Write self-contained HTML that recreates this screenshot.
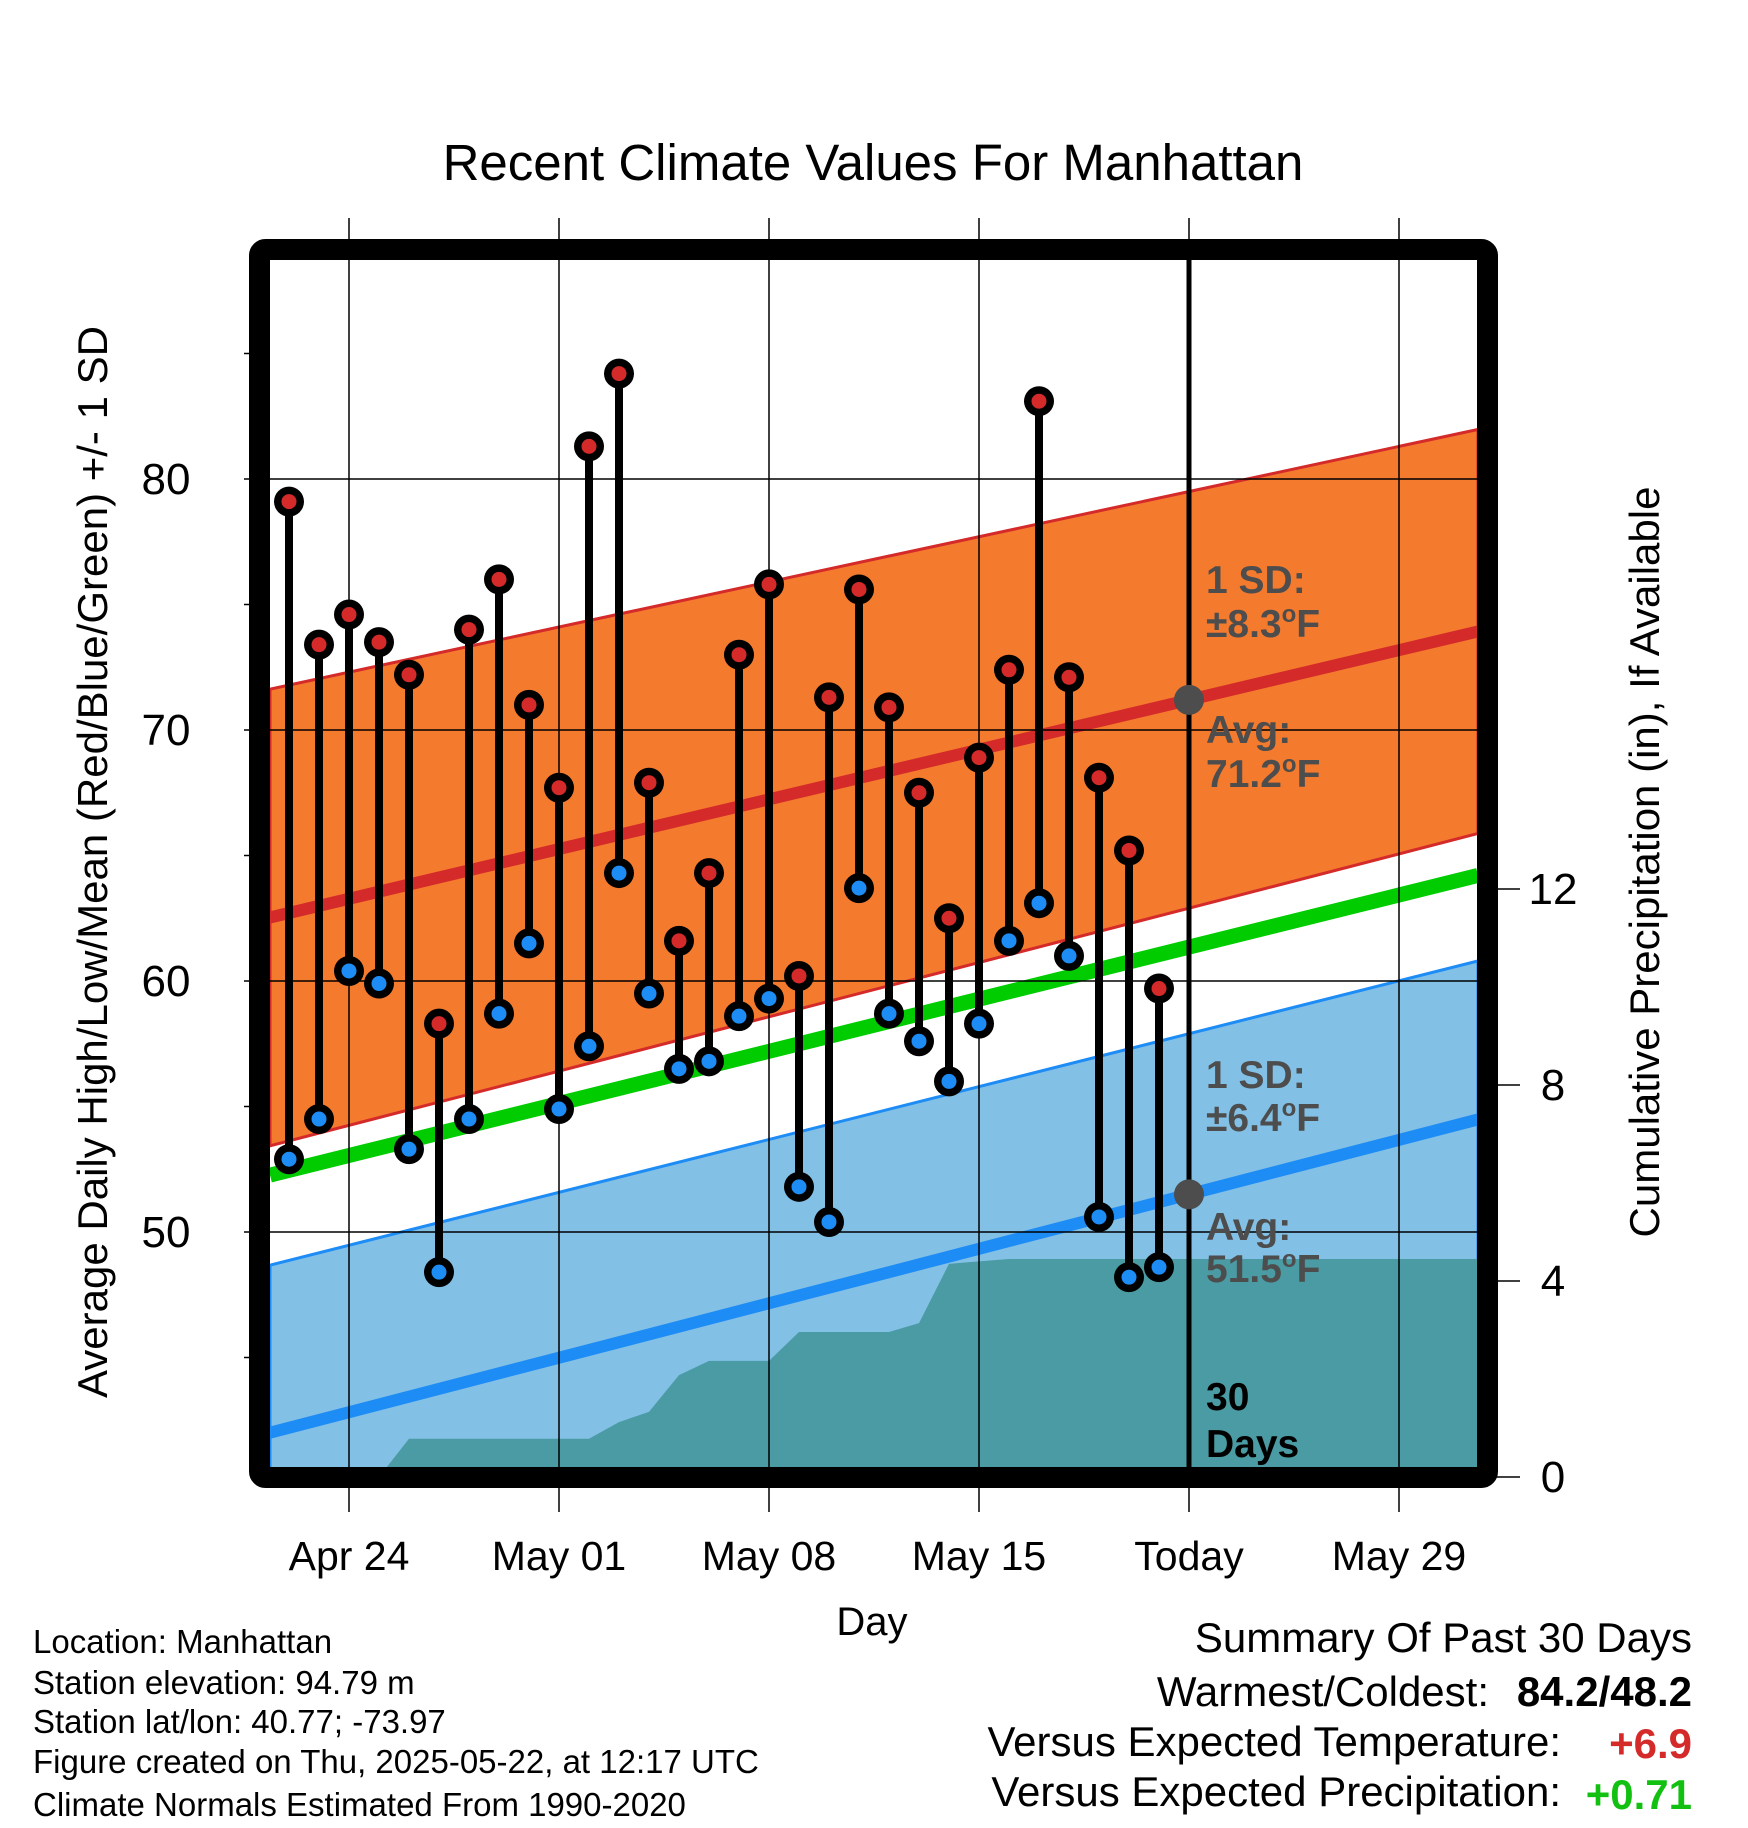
<!DOCTYPE html>
<html><head><meta charset="utf-8"><style>
html,body{margin:0;padding:0;background:#fff;}
svg{display:block;font-family:"Liberation Sans",sans-serif;}
</style></head><body>
<svg id="chart" width="1748" height="1828" viewBox="0 0 1748 1828" xmlns="http://www.w3.org/2000/svg">
<defs><clipPath id="plotclip"><rect x="270" y="260" width="1208" height="1208"/></clipPath></defs>
<text x="873" y="180" font-size="51" text-anchor="middle">Recent Climate Values For Manhattan</text>
<g id="plot" clip-path="url(#plotclip)"></g>
<g id="axes"></g>
<g id="marks"></g>
<rect x="259.5" y="249.5" width="1228" height="1228" rx="6" fill="none" stroke="#000" stroke-width="21"/>
<text transform="translate(107,862) rotate(-90)" font-size="42" text-anchor="middle">Average Daily High/Low/Mean (Red/Blue/Green) +/- 1 SD</text>
<text transform="translate(1659,862) rotate(-90)" font-size="42" text-anchor="middle">Cumulative Precipitation (in), If Available</text>
<text x="872" y="1635" font-size="40" text-anchor="middle">Day</text>
<g font-size="33">
<text x="33" y="1653">Location: Manhattan</text>
<text x="33" y="1694">Station elevation: 94.79 m</text>
<text x="33" y="1733">Station lat/lon: 40.77; -73.97</text>
<text x="33" y="1773">Figure created on Thu, 2025-05-22, at 12:17 UTC</text>
<text x="33" y="1816">Climate Normals Estimated From 1990-2020</text>
</g>
<g font-size="42">
<text x="1692" y="1652" text-anchor="end">Summary Of Past 30 Days</text>
<text x="1489" y="1706" text-anchor="end">Warmest/Coldest:</text>
<text x="1692" y="1706" text-anchor="end" font-weight="bold">84.2/48.2</text>
<text x="1561" y="1756" text-anchor="end">Versus Expected Temperature:</text>
<text x="1692" y="1758" text-anchor="end" font-weight="bold" fill="#d42a2a">+6.9</text>
<text x="1561" y="1806" text-anchor="end">Versus Expected Precipitation:</text>
<text x="1692" y="1809" text-anchor="end" font-weight="bold" fill="#11c011">+0.71</text>
</g>
</svg>
<script>
// day index 0 = Apr 24
const days = [-2,-1,0,1,2,3,4,5,6,7,8,9,10,11,12,13,14,15,16,17,18,19,20,21,22,23,24,25,26,27];
const highs = [79.1,73.4,74.6,73.5,72.2,58.3,74.0,76.0,71.0,67.7,81.3,84.2,67.9,61.6,64.3,73.0,75.8,60.2,71.3,75.6,70.9,67.5,62.5,68.9,72.4,83.1,72.1,68.1,65.2,59.7];
const lows = [52.9,54.5,60.4,59.9,53.3,48.4,54.5,58.7,61.5,54.9,57.4,64.3,59.5,56.5,56.8,58.6,59.3,51.8,50.4,63.7,58.7,57.6,56.0,58.3,61.6,63.1,61.0,50.6,48.2,48.6];
const precip = [0,0,0,0,0.78,0.78,0.78,0.78,0.78,0.78,0.78,1.12,1.33,2.08,2.37,2.37,2.37,2.96,2.96,2.96,2.96,3.14,4.35,4.40,4.45,4.45,4.45,4.45,4.45,4.45];
const xTickDays = [0,7,14,21,28,35];
const xTickLabels = ["Apr 24","May 01","May 08","May 15","Today","May 29"];
const yTicks = [50,60,70,80];
const yMinor = [45,55,65,75,85];
const y2Ticks = [0,4,8,12];
const todayDay = 28;
const normHighToday = 71.2, normHighSlope = 0.283, sdHighToday = 8.3, sdHighSlope = -0.026;
const normLowToday = 51.5, normLowSlope = 0.31, sdLowToday = 6.4, sdLowSlope = -0.009;

const NS="http://www.w3.org/2000/svg";
const X0=270, X1=1478, Y0=260, Y1=1468;
const x = d => 349 + d*30;
const y = t => 1232 - (t-50)*25.1;
const y2 = p => 1477 - p*49;
const dL = (X0-349)/30, dR = (X1-349)/30;
const nh = d => normHighToday + normHighSlope*(d-todayDay);
const nl = d => normLowToday + normLowSlope*(d-todayDay);
const sh = d => sdHighToday + sdHighSlope*(d-todayDay);
const sl = d => sdLowToday + sdLowSlope*(d-todayDay);
function mk(parent,tag,attrs){const e=document.createElementNS(NS,tag);for(const k in attrs)e.setAttribute(k,attrs[k]);parent.appendChild(e);return e;}
const plot=document.getElementById('plot'), axes=document.getElementById('axes'), marks=document.getElementById('marks');

let e=mk(plot,'polygon',{points:`${X0},${y(nh(dL)+sh(dL))} ${X1},${y(nh(dR)+sh(dR))} ${X1},${y(nh(dR)-sh(dR))} ${X0},${y(nh(dL)-sh(dL))}`,fill:'#f47a2e',stroke:'#d42a2a','stroke-width':3});


e=mk(plot,'polygon',{points:`${X0},${y(nl(dL)+sl(dL))} ${X1},${y(nl(dR)+sl(dR))} ${X1},${y(nl(dR)-sl(dR))} ${X0},${y(nl(dL)-sl(dL))}`,fill:'#82c0e6',stroke:'#1e8cf5','stroke-width':3});


let pts=`${x(days[0])},${Y1+5} `;
days.forEach((d,i)=>{pts+=`${x(d)},${y2(precip[i])} `;});
pts+=`${X1},${y2(precip[precip.length-1])} ${X1},${Y1+5}`;
e=mk(plot,'polygon',{points:pts,fill:'#4a9ba4'});


e=mk(plot,'line',{x1:X0,y1:y((nh(dL)+nl(dL))/2),x2:X1,y2:y((nh(dR)+nl(dR))/2),stroke:'#00cc00','stroke-width':15});


e=mk(plot,'line',{x1:X0,y1:y(nh(dL)),x2:X1,y2:y(nh(dR)),stroke:'#d42a2a','stroke-width':12});


e=mk(plot,'line',{x1:X0,y1:y(nl(dL)),x2:X1,y2:y(nl(dR)),stroke:'#1e8cf5','stroke-width':12});


xTickDays.forEach((d,i)=>{
  const g=mk(axes,'line',{x1:x(d),y1:218,x2:x(d),y2:1512,stroke:'#000','stroke-width':1.5});
  
  
  if(d===todayDay){
    const tl=mk(axes,'line',{x1:x(d),y1:Y0,x2:x(d),y2:Y1,stroke:'#000','stroke-width':5});
    
    
  }
  const t=mk(axes,'text',{x:x(d),y:1570,'font-size':41,'text-anchor':'middle'});
  t.textContent=xTickLabels[i];
  
  
});
yTicks.forEach(v=>{
  const g=mk(axes,'line',{x1:244,y1:y(v),x2:X1,y2:y(v),stroke:'#000','stroke-width':1.5});
  
  
  const t=mk(axes,'text',{x:166,y:y(v)+15,'font-size':44,'text-anchor':'middle'});
  t.textContent=v;
  
  
});
yMinor.forEach(v=>{
  const g=mk(axes,'line',{x1:244,y1:y(v),x2:252,y2:y(v),stroke:'#000','stroke-width':1.5});
  
  
});
y2Ticks.forEach(v=>{
  const g=mk(axes,'line',{x1:1490,y1:y2(v),x2:1520,y2:y2(v),stroke:'#000','stroke-width':1.5});
  
  
  const t=mk(axes,'text',{x:1553,y:y2(v)+15,'font-size':44,'text-anchor':'middle'});
  t.textContent=v;
  
  
});
days.forEach((d,i)=>{
  const s=mk(marks,'line',{x1:x(d),y1:y(highs[i]),x2:x(d),y2:y(lows[i]),stroke:'#000','stroke-width':8});
  
  
  [[highs[i],'#d42a2a','high-point'],[lows[i],'#1e8cf5','low-point']].forEach(([v,c,n])=>{
    const o=mk(marks,'circle',{cx:x(d),cy:y(v),r:15,fill:'#000'});
    
    
    const p=mk(marks,'circle',{cx:x(d),cy:y(v),r:7.5,fill:c});
    
    
  });
});
[[nh(todayDay),'today-high-normal-dot'],[nl(todayDay),'today-low-normal-dot']].forEach(([v,n])=>{
  const c=mk(marks,'circle',{cx:x(todayDay),cy:y(v),r:15,fill:'#4d4d4d'});
  
  
});
const labels=[["1 SD:",593,'#4d4d4d',0],["±8.3",637,'#4d4d4d',1],["Avg:",743,'#4d4d4d',0],["71.2",787,'#4d4d4d',1],
["1 SD:",1088,'#4d4d4d',0],["±6.4",1131,'#4d4d4d',1],["Avg:",1240,'#4d4d4d',0],["51.5",1282,'#4d4d4d',1],["30",1410,'#000',0],["Days",1457,'#000',0]];
labels.forEach(([s,yy,c,deg])=>{
  const t=mk(marks,'text',{x:1206,y:yy,'font-size':39,'font-weight':'bold',fill:c});
  t.textContent=s;
  if(deg){
    const o=mk(t,'tspan',{'font-size':24,dy:-15});
    o.textContent='o';
    const f=mk(t,'tspan',{dy:15});
    f.textContent='F';
  }
  
  
});
</script>
</body></html>
